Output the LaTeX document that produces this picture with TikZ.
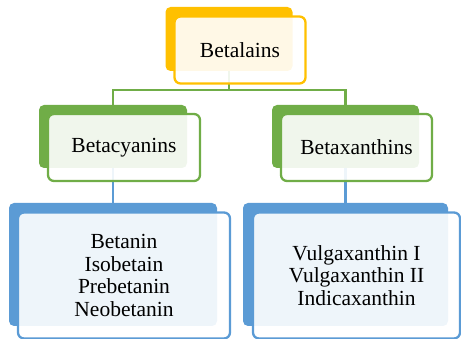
\documentclass[tikz,border=0pt]{standalone}
\usepackage{fontspec}
\setmainfont{Liberation Serif}
\usetikzlibrary{positioning, calc}
\pgfdeclarelayer{links}
\pgfsetlayers{links,main}
\definecolor{amber}{HTML}{FFC000}
\definecolor{leaf}{HTML}{70AD47}
\definecolor{sky}{HTML}{5B9BD5}

\begin{document}
\begin{tikzpicture}[
    x=1pt, y=-1pt,
    back/.style={fill=#1, draw=none, rounded corners=5pt, inner sep=0pt},
    front/.style={draw=#1, line width=2.3pt, fill=white, fill opacity=0.9,
        text opacity=1, rounded corners=6pt, inner sep=0pt, align=center,
        font=\fontsize{21.5}{22.5}\selectfont},
    link/.style={draw=#1, line width=2.4pt},
]
\useasboundingbox (0,0) rectangle (461,339);

% back plates (their centres carry the links)
\node[back=amber, minimum width=127pt, minimum height=64pt] (betalains) at (229,39) {};
\node[back=leaf, minimum width=148pt, minimum height=63pt] (betacyanins) at (113,136.5) {};
\node[back=leaf, minimum width=147pt, minimum height=63pt] (betaxanthins) at (345.5,136.5) {};
\node[back=sky, minimum width=208pt, minimum height=123pt] (cyanlist) at (113,264.5) {};
\node[back=sky, minimum width=205pt, minimum height=123pt] (xanthlist) at (345.5,264.5) {};

% front cards
\node[front=amber, minimum width=131pt, minimum height=67pt] (betalainsTxt)
    at ([shift={(11,11)}]betalains.center) {Betalains};
\node[front=leaf, minimum width=152pt, minimum height=67pt] (betacyaninsTxt)
    at ([shift={(11,11)}]betacyanins.center) {Betacyanins};
\node[front=leaf, minimum width=151pt, minimum height=67pt] (betaxanthinsTxt)
    at ([shift={(11,11)}]betaxanthins.center) {Betaxanthins};
\node[front=sky, minimum width=212pt, minimum height=126pt] (cyanlistTxt)
    at ([shift={(11,11)}]cyanlist.center) {Betanin\\Isobetain\\Prebetanin\\Neobetanin};
\node[front=sky, minimum width=207pt, minimum height=126pt] (xanthlistTxt)
    at ([shift={(11,11)}]xanthlist.center) {Vulgaxanthin I\\Vulgaxanthin II\\Indicaxanthin};

% links, under the plates
\coordinate (split) at (229,90);
\begin{pgfonlayer}{links}
\draw[link=leaf] (betalains.center) -- (split) -| (betacyanins.center);
\draw[link=leaf] (split) -| (betaxanthins.center);
\draw[link=sky] (betacyanins.center) -- (cyanlist.center);
\draw[link=sky] (betaxanthins.center) -- (xanthlist.center);
\end{pgfonlayer}
\end{tikzpicture}
\end{document}
